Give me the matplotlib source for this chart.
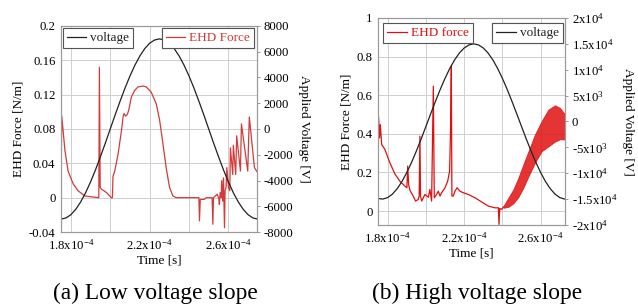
import numpy as np
import matplotlib
matplotlib.use("Agg")
import matplotlib.pyplot as plt
from matplotlib.lines import Line2D

plt.rcParams["font.family"] = ["Liberation Serif", "DejaVu Serif"]
plt.rcParams["mathtext.fontset"] = "custom"
plt.rcParams["mathtext.rm"] = "Liberation Serif"
plt.rcParams["mathtext.it"] = "Liberation Serif:italic"

# ---------------------------------------------------------------
# data (time in microseconds)
# ---------------------------------------------------------------
# (a) low voltage slope
volt_t_a = [175, 177.5, 180, 182.5, 185, 187.5, 190, 192.5, 195, 197.5,
            200, 202.5, 205, 207.5, 210, 212.5, 215, 217.5, 220, 222.5,
            225, 227.5, 230, 232.5, 235, 237.5, 240, 242.5, 245, 247.5,
            250, 252.5, 255, 257.5, 260, 262.5, 265, 267.5, 270, 272.5, 275]
volt_a = [-7000, -6910, -6660, -6240, -5660, -4950, -4110, -3180, -2160, -1100,
          0, 1100, 2160, 3180, 4110, 4950, 5660, 6240, 6660, 6910,
          7000, 6910, 6660, 6240, 5660, 4950, 4110, 3180, 2160, 1100,
          0, -1100, -2160, -3180, -4110, -4950, -5660, -6240, -6660, -6910, -7000]

force_t_a = [175.0, 175.4, 177.0, 178.6, 181.2, 183.7, 187.1, 190.5, 194.2, 194.5,
             194.9, 195.5, 198.1, 200.6, 201.1, 201.4, 202.3, 204.0, 205.7, 206.5,
             207.0, 207.8, 208.7, 209.4, 210.7, 212.4, 214.1, 216.6, 218.3, 220.8,
             223.4, 225.1, 226.8, 228.4, 230.1, 231.8, 233.5, 245.0, 245.3, 245.7,
             247.8, 248.7, 251.7, 252.1, 252.4, 254.3, 255.1, 255.4, 255.8, 256.3,
             256.6, 257.1, 257.5, 258.0, 258.3, 258.8, 259.2, 260.0, 260.7, 261.0,
             262.2, 262.5, 263.7, 264.2, 266.1, 266.6, 269.8, 270.6, 273.2, 274.9]
force_a = [0.012, 0.095, 0.055, 0.031, 0.016, 0.008, 0.002, 0.001, 0.0, 0.152,
           0.012, 0.010, 0.006, 0.0, 0.0, 0.025, 0.031, 0.051, 0.078, 0.094,
           0.098, 0.095, 0.097, 0.102, 0.117, 0.125, 0.129, 0.130, 0.129, 0.123,
           0.109, 0.090, 0.062, 0.035, 0.012, 0.002, 0.0, 0.0, -0.027, -0.002,
           -0.002, 0.0, 0.0, -0.031, 0.0, 0.004, -0.001, -0.008, 0.006, 0.0,
           0.020, -0.004, 0.023, -0.035, 0.008, 0.012, 0.035, 0.012, 0.008, 0.058,
           0.027, 0.061, 0.027, 0.072, 0.031, 0.086, 0.031, 0.094, 0.035, 0.029]

# (b) high voltage slope
volt_t_b = volt_t_a
volt_b = [-14870, -14990, -14710, -14040, -12990, -11600, -9890, -7920, -5740, -3410,
          -980, 1470, 3880, 6190, 8330, 10250, 11900, 13230, 14200, 14800,
          15000, 14800, 14200, 13230, 11900, 10250, 8330, 6190, 3880, 1470,
          -980, -3410, -5740, -7920, -9890, -11600, -12990, -14040, -14710, -14990, -14870]

force_t_b = [174.9, 175.3, 175.8, 176.2, 176.9, 178.6, 181.2, 183.8, 186.4, 189.1, 190.1,
             190.5, 191.0, 191.7, 193.4, 194.6, 196.0, 196.5, 196.9, 197.2, 197.8,
             199.5, 201.3, 202.1, 203.0, 203.9, 204.4, 205.6, 206.5, 207.4, 208.2,
             210.0, 211.4, 212.4, 212.9, 213.3, 213.6, 214.3, 215.2, 216.3, 217.8,
             219.6, 222.2, 225.7, 229.2, 232.6, 236.1, 237.9, 238.2, 238.6, 239.6, 240.5]
force_b = [0.40, 0.487, 0.379, 0.448, 0.345, 0.319, 0.250, 0.193, 0.155, 0.129, 0.121,
           0.233, 0.138, 0.107, 0.078, 0.052, 0.060, 0.078, 0.388, 0.078, 0.052,
           0.086, 0.072, 0.112, 0.052, 0.647, 0.069, 0.086, 0.103, 0.078, 0.095,
           0.121, 0.155, 0.207, 0.422, 0.750, 0.078, 0.078, 0.103, 0.121, 0.103,
           0.095, 0.086, 0.069, 0.047, 0.026, 0.017, 0.017, -0.069, 0.014, 0.009, 0.021]

# oscillating band at the end of (b): lower / upper envelope
band_t_b = [240.5, 243.1, 245.7, 248.3, 250.9, 253.6, 257.0, 260.5, 264.0, 267.5, 270.1, 272.7]
band_lo_b = [0.017, 0.022, 0.040, 0.072, 0.120, 0.180, 0.250, 0.310, 0.335, 0.360, 0.372, 0.371]
band_hi_b = [0.026, 0.069, 0.112, 0.172, 0.241, 0.310, 0.397, 0.466, 0.526, 0.548, 0.534, 0.500]

xtick_major = [180, 220, 260]
xtick_minor = [200, 240]
xtick_labels = ["1.8x10$^{-4}$", "2.2x10$^{-4}$", "2.6x10$^{-4}$"]

yticks_a = [-0.04, 0, 0.04, 0.08, 0.12, 0.16, 0.2]
ylabels_a = ["-0.04", "0", "0.04", "0.08", "0.12", "0.16", "0.2"]
vticks_a = [-8000, -6000, -4000, -2000, 0, 2000, 4000, 6000, 8000]
vlabels_a = ["-8000", "-6000", "-4000", "-2000", "0", "2000", "4000", "6000", "8000"]

yticks_b = [0, 0.2, 0.4, 0.6, 0.8, 1.0]
ylabels_b = ["0", "0.2", "0.4", "0.6", "0.8", "1"]
vticks_b = [-20000, -15000, -10000, -5000, 0, 5000, 10000, 15000, 20000]
vlabels_b = ["-2x10$^{4}$", "-1.5x10$^{4}$", "-1x10$^{4}$", "-5x10$^{3}$", "0",
             "5x10$^{3}$", "1x10$^{4}$", "1.5x10$^{4}$", "2x10$^{4}$"]

RED_A = "#d43a3a"
RED_B = "#e01010"
BLACK = "#222222"
GRID = "#cfcfcf"
FS_TICK = 9.2
FS_LAB = 9.5


def setup(ax, ax2, xlim, ylim, yt, yl, vlim, vt, vl):
    ax.set_xlim(*xlim)
    ax.set_ylim(*ylim)
    ax.set_xticks(xtick_major)
    ax.set_xticks(xtick_minor, minor=True)
    ax.set_xticklabels(xtick_labels)
    ax.set_yticks(yt)
    ax.set_yticklabels(yl)
    ax.grid(True, which="both", color=GRID, lw=0.7)
    ax.set_axisbelow(True)
    ax.tick_params(which="both", direction="in", length=0, labelsize=FS_TICK, pad=4)
    ax2.set_ylim(*vlim)
    ax2.set_yticks(vt)
    ax2.set_yticklabels(vl)
    ax2.tick_params(direction="out", length=2, width=0.6, color="#888888",
                    labelsize=FS_TICK, pad=3)
    for a in (ax, ax2):
        for s in a.spines.values():
            s.set_color("#9a9a9a")
            s.set_linewidth(0.8)
    ax.set_xlabel("Time [s]", fontsize=FS_LAB, labelpad=2)
    ax.set_ylabel("EHD Force [N/m]", fontsize=FS_LAB, labelpad=3)
    ax2.set_ylabel("Applied Voltage [V]", fontsize=FS_LAB, rotation=270, labelpad=12)


def legend(ax, label, color, loc, anchor):
    h = Line2D([], [], color=color, lw=0.9)
    leg = ax.legend([h], [label], loc=loc, bbox_to_anchor=anchor, borderaxespad=0,
                    fontsize=9.5, handlelength=1.5, handletextpad=0.3, borderpad=0.3,
                    fancybox=False, framealpha=1, edgecolor="#555555", labelcolor=color)
    leg.get_frame().set_linewidth(0.8)
    ax.add_artist(leg)


fig = plt.figure(figsize=(6.38, 3.05), dpi=100)

# ---- (a) ----
ax = fig.add_axes([0.0956, 0.2393, 0.3072, 0.6755])
ax2 = ax.twinx()
ax.plot(force_t_a, force_a, color=RED_A, lw=0.9)
ax2.plot(volt_t_a, volt_a, color=BLACK, lw=0.9)
setup(ax, ax2, (175, 274.5), (-0.04, 0.2), yticks_a, ylabels_a,
      (-8000, 8000), vticks_a, vlabels_a)
legend(ax2, "voltage", BLACK, "upper left", (0.008, 0.99))
legend(ax2, "EHD Force", RED_A, "upper right", (0.985, 0.99))

# ---- (b) ----
bx = fig.add_axes([0.5925, 0.2623, 0.2931, 0.6787])
bx2 = bx.twinx()
bx.plot(force_t_b, force_b, color=RED_B, lw=0.9)
bx.fill_between(band_t_b, band_lo_b, band_hi_b, color=RED_B, alpha=0.85, lw=0.6)
bx2.plot(volt_t_b, volt_b, color=BLACK, lw=0.9)
setup(bx, bx2, (175, 272.7), (-0.072, 1.0), yticks_b, ylabels_b,
      (-20000, 20000), vticks_b, vlabels_b)
legend(bx2, "EHD force", RED_B, "upper left", (0.027, 0.976))
legend(bx2, "voltage", BLACK, "upper right", (0.989, 0.976))

fig.text(155 / 638, 1 - 293 / 305, "(a) Low voltage slope", ha="center", va="center", fontsize=16.8)
fig.text(477 / 638, 1 - 293 / 305, "(b) High voltage slope", ha="center", va="center", fontsize=16.8)

fig.savefig("out.png", dpi=100)
